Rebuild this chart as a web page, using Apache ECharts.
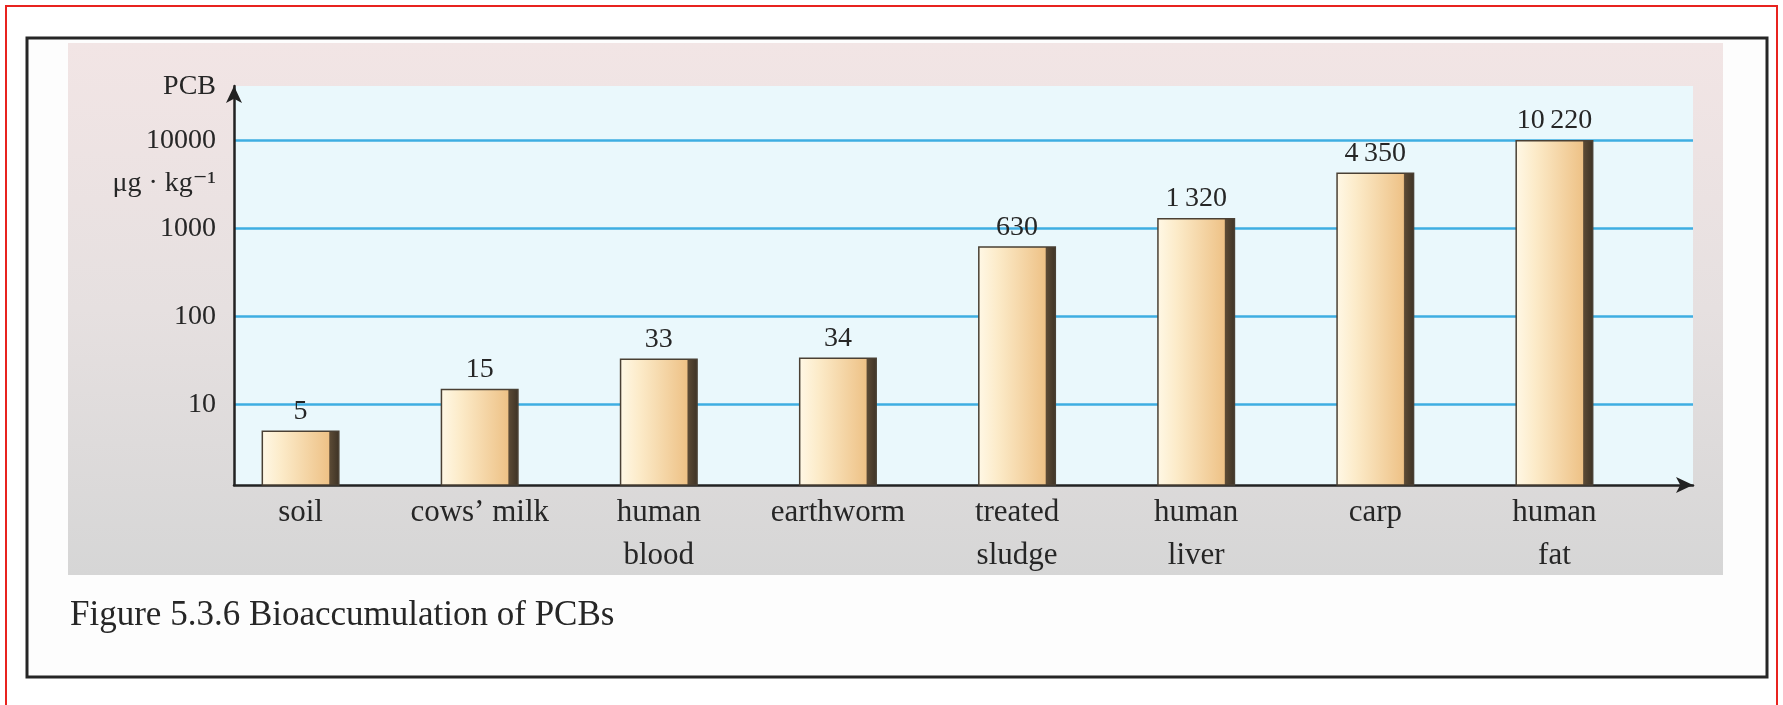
<!DOCTYPE html>
<html lang="en">
<head>
<meta charset="UTF-8">
<title>Bioaccumulation of PCBs</title>
<script src="https://cdn.jsdelivr.net/npm/echarts@6/dist/echarts.min.js"></script>
<style>
    html, body { margin: 0; padding: 0; background: #fff; }
    #main { width: 1783px; height: 705px; }
</style>
</head>
<body>
<div id="main"></div>

<script type="text/javascript">
    // data
    var categories = ['soil', 'cows’ milk', 'human\nblood', 'earthworm', 'treated\nsludge', 'human\nliver', 'carp', 'human\nfat'];
    var pcbValues = [5, 15, 33, 34, 630, 1320, 4350, 10220];
    var tickValues = [10, 100, 1000, 10000];

    var serif = '"Liberation Serif", "DejaVu Serif", serif';
    var ink = '#262626';

    // 10220 -> "10 220" with a thin space, like the book
    function fmt(v) {
        var s = String(Math.round(v));
        if (s.length > 3) s = s.slice(0, -3) + '\u2009' + s.slice(-3);
        return s;
    }

    var myChart = echarts.init(document.getElementById('main'));

    var option = {
        backgroundColor: '#fff',
        animation: false,
        graphic: [
            { // red outline of the scan
                type: 'rect', z: -20,
                shape: { x: 6, y: 6, width: 1771, height: 710 },
                style: { fill: null, stroke: '#e8231f', lineWidth: 2 }
            },
            { // black frame
                type: 'rect', z: -20,
                shape: { x: 27, y: 38, width: 1740, height: 639 },
                style: { fill: '#fdfdfd', stroke: '#262626', lineWidth: 3 }
            },
            { // grey panel behind the plot
                type: 'rect', z: -15,
                shape: { x: 68, y: 43, width: 1655, height: 532 },
                style: {
                    fill: new echarts.graphic.LinearGradient(0, 0, 0, 1, [
                        { offset: 0, color: '#f2e5e5' },
                        { offset: 0.5, color: '#e6e0e0' },
                        { offset: 1, color: '#d6d6d6' }
                    ])
                }
            },
            {
                type: 'text', z: 10,
                x: 216, y: 87,
                style: { text: 'PCB', font: '28px ' + serif, fill: ink, align: 'right', verticalAlign: 'middle' }
            },
            {
                type: 'text', z: 10,
                x: 216, y: 184,
                style: { text: 'μg · kg⁻¹', font: '28px ' + serif, fill: ink, align: 'right', verticalAlign: 'middle' }
            },
            {
                type: 'text', z: 10,
                x: 70, y: 616,
                style: { text: 'Figure 5.3.6 Bioaccumulation of PCBs', font: '35px ' + serif, fill: ink, verticalAlign: 'middle' }
            }
        ],
        grid: [
            { // axes + gridlines
                left: 234, top: 86, width: 1459, height: 399,
                show: true, backgroundColor: '#eaf8fc', borderWidth: 0
            },
            { // bars (category bands start left of the y axis in the figure)
                left: 211, top: 86, width: 1433, height: 399
            }
        ],
        xAxis: [
            {
                gridIndex: 0, type: 'value', min: 0, max: 1,
                axisLine: {
                    show: true, symbol: ['none', 'arrow'], symbolSize: [12, 17],
                    lineStyle: { color: '#222', width: 2.5 }
                },
                axisTick: { show: false },
                axisLabel: { show: false },
                splitLine: { show: false }
            },
            {
                gridIndex: 1, type: 'category', data: categories,
                axisLine: { show: false },
                axisTick: { show: false },
                axisLabel: {
                    interval: 0, hideOverlap: false,
                    color: ink, fontFamily: serif, fontSize: 31, lineHeight: 43, margin: 6
                }
            }
        ],
        yAxis: [
            {
                gridIndex: 0, type: 'log', min: 1.2, max: 42000,
                axisLine: {
                    show: true, symbol: ['none', 'arrow'], symbolSize: [12, 17],
                    lineStyle: { color: '#222', width: 2.5 }
                },
                axisTick: { show: false },
                axisLabel: {
                    color: ink, fontFamily: serif, fontSize: 28, margin: 18,
                    formatter: function (v) {
                        var r = Math.round(v);
                        return tickValues.indexOf(r) >= 0 ? String(r) : '';
                    }
                },
                splitLine: {
                    show: true, showMinLine: false, showMaxLine: false,
                    lineStyle: { color: '#3eaee2', width: 2.5 }
                }
            },
            {
                gridIndex: 1, type: 'log', min: 1.2, max: 42000, show: false
            }
        ],
        series: [
            {
                type: 'bar',
                xAxisIndex: 1, yAxisIndex: 1,
                data: pcbValues,
                barWidth: 78,
                clip: true,
                itemStyle: {
                    color: new echarts.graphic.LinearGradient(0, 0, 1, 0, [
                        { offset: 0, color: '#fff8e6' },
                        { offset: 0.25, color: '#fcebc9' },
                        { offset: 0.86, color: '#eec287' },
                        { offset: 0.875, color: '#5b4a35' },
                        { offset: 1, color: '#3d3225' }
                    ]),
                    borderColor: '#4a4034',
                    borderWidth: 1.5
                },
                label: {
                    show: true, position: 'top', distance: 5,
                    color: ink, fontFamily: serif, fontSize: 28,
                    formatter: function (p) { return fmt(p.value); }
                }
            }
        ]
    };

    myChart.setOption(option);
</script>
</body>
</html>
